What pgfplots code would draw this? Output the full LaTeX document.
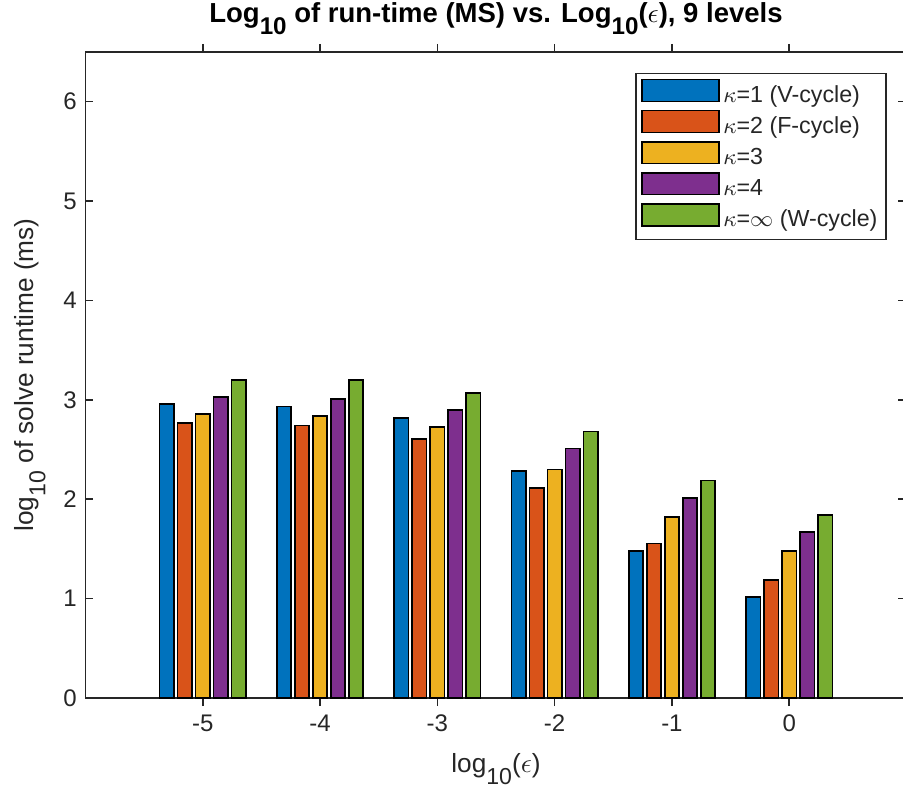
\documentclass[border=0pt]{standalone}
\usepackage{pgfplots}
\pgfplotsset{compat=1.18}
\usepackage{fontspec}
\setmainfont{Liberation Sans}
\definecolor{mblue}{rgb}{0,0.447,0.741}
\definecolor{morange}{rgb}{0.85,0.325,0.098}
\definecolor{myellow}{rgb}{0.929,0.694,0.125}
\definecolor{mpurple}{rgb}{0.494,0.184,0.556}
\definecolor{mgreen}{rgb}{0.466,0.674,0.188}
\definecolor{axgray}{rgb}{0.15,0.15,0.15}
\newcommand\sub[1]{\raisebox{-0.45em}{\scalebox{0.88}{#1}}}
\begin{document}
\begin{tikzpicture}
\begin{axis}[
  at={(0pt,0pt)}, anchor=south west,
  scale only axis,
  width=328.4pt, height=258.4pt,
  xmin=-6, xmax=1, ymin=0, ymax=6.5,
  xtick={-5,-4,-3,-2,-1,0},
  xticklabels={-5,-4,-3,-2,-1,0},
  ytick={0,1,2,3,4,5,6},
  tick align=inside,
  major tick length=3.2pt,
  axis line style={draw=axgray, line width=0.6pt},
  every tick/.style={draw=axgray, line width=0.6pt},
  /pgf/number format/assume math mode=true,
  tick label style={font=\fontsize{9.6}{11}\selectfont, text=axgray},
  ybar, bar width=0.122,
  every axis plot/.append style={draw=black, line width=0.6pt},
  every axis title shift=0pt,
  title={\textbf{Log\sub{10} of run-time (MS) vs. Log\sub{10}($\epsilon$), 9 levels}},
  title style={at={(axis description cs:0.5,1.0464)}, anchor=base, font=\fontsize{11}{13}\selectfont, text=black},
  xlabel={log\sub{10}($\epsilon$)},
  xlabel style={at={(axis description cs:0.5,-0.1156)}, anchor=base, font=\fontsize{10.5}{12}\selectfont, text=axgray},
  ylabel={log\sub{10} of solve runtime (ms)},
  ylabel style={at={(axis description cs:-0.0632,0.5)}, anchor=base, font=\fontsize{10.5}{12}\selectfont, text=axgray},
  legend cell align=left,
  legend image code/.code={\draw[#1, draw=black, line width=0.6pt] (0pt,-1.3pt) rectangle (30.8pt,7.4pt);},
  legend style={at={(1,1)}, anchor=north east, xshift=-7.8pt, yshift=-8.4pt,
    draw=axgray, line width=0.6pt, font=\fontsize{9.3}{11}\selectfont, text=axgray,
    inner xsep=2pt, inner ysep=2pt, row sep=0pt,
    nodes={text height=5.5pt, text depth=2.2pt, inner ysep=0.9pt, inner xsep=1.5pt}},
]
\addplot[fill=mblue, bar shift=-0.307] coordinates {(-5,2.957) (-4,2.933) (-3,2.816) (-2,2.285) (-1,1.477) (0,1.017)};
\addplot[fill=morange, bar shift=-0.1535] coordinates {(-5,2.765) (-4,2.741) (-3,2.607) (-2,2.111) (-1,1.553) (0,1.188)};
\addplot[fill=myellow, bar shift=0] coordinates {(-5,2.859) (-4,2.839) (-3,2.725) (-2,2.298) (-1,1.822) (0,1.477)};
\addplot[fill=mpurple, bar shift=0.1535] coordinates {(-5,3.027) (-4,3.010) (-3,2.896) (-2,2.510) (-1,2.010) (0,1.668)};
\addplot[fill=mgreen, bar shift=0.307] coordinates {(-5,3.198) (-4,3.198) (-3,3.067) (-2,2.681) (-1,2.188) (0,1.839)};
\legend{$\kappa$=1 (V-cycle),$\kappa$=2 (F-cycle),$\kappa$=3,$\kappa$=4,$\kappa$=$\infty$ (W-cycle)}
\end{axis}
\pgfresetboundingbox
\path (-34.2pt,-36.8pt) rectangle (327pt,279.2pt);
\end{tikzpicture}
\end{document}
